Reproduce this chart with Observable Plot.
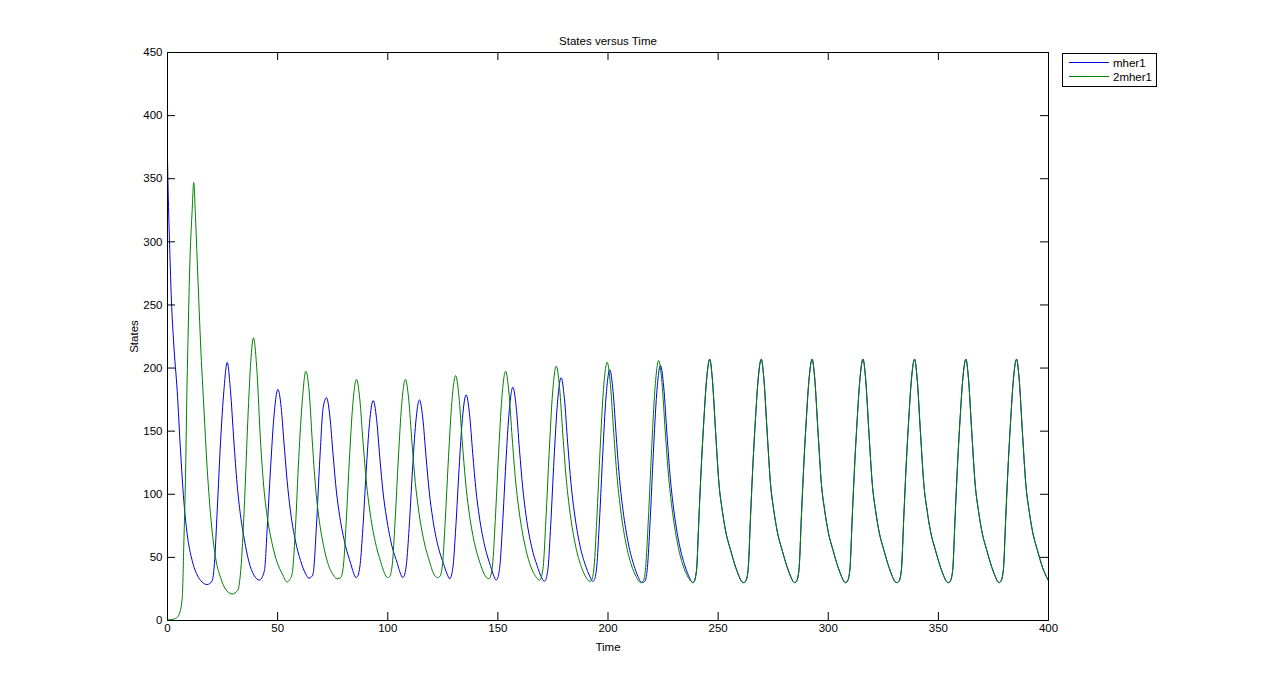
<!DOCTYPE html>
<html>
<head>
<meta charset="utf-8">
<script src="https://cdn.jsdelivr.net/npm/d3@7"></script>
<script src="https://cdn.jsdelivr.net/npm/@observablehq/plot@0.6"></script>
<style>
  body { margin: 0; background: #fff; }
  #wrap { position: relative; width: 1281px; height: 698px; font-family: "Liberation Sans", Arial, sans-serif; }
  #legend { position: absolute; left: 1062px; top: 53px; }
</style>
</head>
<body>
<div id="wrap"><div id="chart"></div><div id="legend"></div></div>
<script>
const title = "States versus Time";
const xLabel = "Time";
const yLabel = "States";
const seriesNames = ["mher1", "2mher1"];
const seriesColors = ["#0000dd", "#008000"];
const xTicks = [0, 50, 100, 150, 200, 250, 300, 350, 400];
const yTicks = [0, 50, 100, 150, 200, 250, 300, 350, 400, 450];

// mher1 (blue) from t = 0 to ~238 (after that it coincides with 2mher1)
const mher1Head = [
  [0,366],[0.3,340],[1,295],[1.8,253],[2.8,220],[4.4,182],[5.9,135],[7.4,95],[8.9,69],[11.2,47.5],[13.5,36],[15.7,30.5],[18,28.5],[20.3,31.5],[21.3,45],[22.6,88],[24.1,142],[25.6,182],[27.1,204.5],
  [28.6,182],[30.1,143],[31.6,108],[33.1,84],[35,63],[36.9,47],[39.2,36],[41.8,32],[44,39.5],[45.3,74],[46.8,121],[48.3,161],[50.1,183],
  [51.6,169],[52.8,143],[54.3,111],[55.8,87],[58.1,63],[60.4,47.5],[62.7,37],[64.2,33.5],[65.3,34.5],[66.1,37],[67.6,74],[69.2,129],[70.7,169],[72.2,176.5],
  [73.7,162],[75.2,131],[76.7,102],[78.2,82.5],[80.7,60],[83.2,45],[84.4,38],[85.6,34],
  [86.5,35.5],[87,39],[87.5,45],[88.7,73],[90.2,118],[91.7,156],[93.4,174.3],
  [94.9,160],[96.4,129],[97.9,101],[99.4,82],[101.9,59],[104.4,45],[105.6,38],[106.8,34],
  [107.5,35.5],[108,39],[108.5,45],[109.7,73],[111.2,118.5],[112.7,156.5],[114.4,174.8],
  [115.9,160.5],[117.4,129.5],[118.9,101],[120.4,81],[122.9,58.5],[125.4,44.5],[126.8,37.5],[128.2,33],
  [128.7,34.5],[129.2,38],[129.7,44],[130.9,74],[132.4,120.5],[133.9,160],[135.6,178.8],
  [137.1,164],[138.6,132],[140.1,102.5],[141.6,82],[144.1,58.5],[146.6,43.5],[148,36],[149.2,32],
  [149.9,33.5],[150.4,37],[150.9,43],[152.1,75],[153.6,124],[155.1,165],[156.8,184.8],
  [158.3,169.5],[159.8,135.5],[161.3,105],[162.8,83],[165.3,58.5],[167.8,43.5],[169.6,35],[171.1,31],
  [171.8,32.5],[172.3,36],[172.8,42],[174,76],[175.5,128],[177,171],[178.7,192.3],
  [180.2,176],[181.7,140.5],[183.2,108.5],[184.7,86],[187.2,60],[189.7,44],[191.5,36],[193.1,31],
  [193.9,32.5],[194.4,36],[194.9,43],[196.1,78],[197.6,131.5],[199.1,177],[200.8,198.6],
  [202.3,181.5],[203.8,144.5],[205.3,111],[206.8,87.5],[209.3,60.5],[211.8,43.5],[213.6,35],[215.3,30],
  [216.9,31.5],[217.4,35],[217.9,42],[219.1,78],[220.6,133],[222.1,179.5],[223.8,202],
  [225.3,185],[226.8,147],[228.3,112.5],[229.8,88.5],[232.3,61],[234.8,44],[236.6,35.5],[237.7,31.5]
];

// 2mher1 (green) from t = 0 to ~238
const twoMher1Head = [
  [0,0.5],[2,0.8],[4,2],[5.3,5],[6.7,18],[7.4,60],[8.2,116],[8.9,190],[9.2,214],[10.1,280],[11.2,325],[11.9,347],
  [12.7,320],[13.5,285],[14.2,254],[15,220],[16.5,169],[18,121],[19.5,85],[21.8,50],[24.1,34],[26.3,25],[29.4,21],[31.9,24],
  [33.5,45],[35,95],[36.5,160],[37.8,205],[39,224],
  [40.7,195],[42.2,143],[43.7,106],[45.3,82],[47.5,61],[49.8,46],[52.1,37],[54.3,30.5],[55.5,32.5],
  [56.6,37],[58.1,74],[59.6,129],[61.2,174],[62.8,197.5],
  [64.3,182],[65.7,143],[67.2,106],[68.7,82],[71,58],[73.7,41],[75.3,36],[77,33],
  [78.9,34.5],[79.4,38],[79.9,44],[81.1,77],[82.6,128],[84.1,170.5],[85.8,191],
  [87.3,175.5],[88.8,141],[90.3,109.5],[91.8,87.5],[94.3,62.5],[96.8,46.5],[98.4,38],[99.9,34],
  [101.1,35.5],[101.6,39],[102.1,45],[103.3,78],[104.8,128],[106.3,170.5],[108,191],
  [109.5,175.5],[111,141],[112.5,109.5],[114,87.5],[116.5,62.5],[119,46.5],[120.6,38],[122.6,34],
  [123.9,35.5],[124.4,39],[124.9,45],[126.1,79],[127.6,130],[129.1,173],[130.8,194],
  [132.3,178],[133.8,142.5],[135.3,110.5],[136.8,87.5],[139.3,62],[141.8,46],[143.6,37.5],[145.9,33],
  [146.6,34.5],[147.1,38],[147.6,44],[148.8,79],[150.3,131.5],[151.8,176],[153.5,197.5],
  [155,181],[156.5,144.5],[158,111.5],[159.5,88.5],[162,62],[164.5,45],[166.6,36.5],[168.9,32],
  [169.6,33.5],[170.1,37],[170.6,43],[171.8,79.5],[173.3,133.5],[174.8,179.5],[176.5,201.5],
  [178,184.5],[179.5,147],[181,113],[182.5,89],[185,61.5],[187.5,44.5],[189.6,35.5],[191.8,31],
  [192.7,32.5],[193.2,36],[193.7,43],[194.9,79.5],[196.4,135],[197.9,182],[199.6,204.6],
  [201.1,187],[202.6,148.5],[204.1,114],[205.6,89.5],[208.1,61.5],[210.6,44],[212.7,35],[214.9,30],
  [216.1,31.5],[216.6,35],[217.1,42],[218.3,79.5],[219.8,135.5],[221.3,183],[223,206],
  [224.5,188.5],[226,149.5],[227.5,114.5],[229,90],[231.5,61.5],[234,44],[236,35.5],[237.4,31.5]
];

// Shared steady oscillation from t ~ 238.6 to 400 (both series coincide)
const steadyTail = [
  [238.6,30],[239.3,31.5],[239.8,35],[240.3,42],[241.3,82],[242.5,127],[243.6,161],[244.6,187.5],[246.2,207],[247.3,193],[248.9,148],[250.4,108],[251.9,87],[253.4,71],[255.7,55.5],[258,42],[259.5,35],[260.5,31.3],
  [261.7,30],[262.6,31.5],[263.2,35],[263.7,42],[264.7,82],[265.9,127],[267,161],[268,187.5],[269.6,207],[270.7,193],[272.3,148],[273.8,108],[275.3,87],[276.8,71],[279.1,55.5],[281.4,42],[282.9,35],[283.9,31.3],
  [284.8,30],[285.7,31.5],[286.3,35],[286.8,42],[287.8,82],[289,127],[290.1,161],[291.1,187.5],[292.7,207],[293.8,193],[295.4,148],[296.9,108],[298.4,87],[299.9,71],[302.2,55.5],[304.5,42],[306,35],[307,31.3],
  [307.9,30],[308.8,31.5],[309.4,35],[309.9,42],[310.9,82],[312.1,127],[313.2,161],[314.2,187.5],[315.8,207],[316.9,193],[318.5,148],[320,108],[321.5,87],[323,71],[325.3,55.5],[327.6,42],[329.1,35],[330.1,31.3],
  [331.3,30],[332.2,31.5],[332.8,35],[333.3,42],[334.3,82],[335.5,127],[336.6,161],[337.6,187.5],[339.2,207],[340.3,193],[341.9,148],[343.4,108],[344.9,87],[346.4,71],[348.7,55.5],[351,42],[352.5,35],[353.5,31.3],
  [354.6,30],[355.5,31.5],[356.1,35],[356.6,42],[357.6,82],[358.8,127],[359.9,161],[360.9,187.5],[362.5,207],[363.6,193],[365.2,148],[366.7,108],[368.2,87],[369.7,71],[372,55.5],[374.3,42],[375.8,35],[376.8,31.3],
  [377.6,30],[378.5,31.5],[379.1,35],[379.6,42],[380.6,82],[381.8,127],[382.9,161],[383.9,187.5],[385.5,207],[386.6,193],[388.2,148],[389.7,108],[391.2,87],[392.7,71],[395,55.5],[397.3,42],[400,31.5]
];

const toRows = (name, pts) => pts.map(([t, v]) => ({series: name, t, v}));
const mher1 = toRows(seriesNames[0], mher1Head.concat(steadyTail));
const twoMher1 = toRows(seriesNames[1], twoMher1Head.concat(steadyTail));

const W = 1281, H = 698, mL = 167, mR = 233, mT = 52, mB = 78;
const frameW = W - mL - mR, frameH = H - mT - mB, tickLen = 8;
const font = '"Liberation Sans", Arial, sans-serif';

const chart = Plot.plot({
  width: W, height: H,
  marginLeft: mL, marginRight: mR, marginTop: mT, marginBottom: mB,
  x: {domain: [0, 400]},
  y: {domain: [0, 450]},
  style: {fontFamily: font, fontSize: "11.5px", background: "white", color: "black"},
  marks: [
    Plot.line(mher1, {x: "t", y: "v", stroke: seriesColors[0], strokeWidth: 1, curve: "monotone-x"}),
    Plot.line(twoMher1, {x: "t", y: "v", stroke: seriesColors[1], strokeWidth: 1, curve: "monotone-x"}),
    Plot.frame({stroke: "black"}),
    Plot.tickX(xTicks, {x: d => d, insetTop: frameH - tickLen, stroke: "black"}),
    Plot.tickX(xTicks, {x: d => d, insetBottom: frameH - tickLen, stroke: "black"}),
    Plot.tickY(yTicks, {y: d => d, insetRight: frameW - tickLen, stroke: "black"}),
    Plot.tickY(yTicks, {y: d => d, insetLeft: frameW - tickLen, stroke: "black"}),
    Plot.axisX(xTicks, {anchor: "bottom", tickSize: 0, tickPadding: 3, label: null}),
    Plot.axisY(yTicks, {anchor: "left", tickSize: 0, tickPadding: 5, label: null}),
    Plot.text([xLabel], {frameAnchor: "bottom", dy: 27, lineAnchor: "middle", textAnchor: "middle", fill: "black"}),
    Plot.text([yLabel], {frameAnchor: "left", dx: -33, rotate: -90, lineAnchor: "middle", textAnchor: "middle", fill: "black"}),
    Plot.text([title], {frameAnchor: "top", dy: -11, lineAnchor: "middle", textAnchor: "middle", fill: "black"})
  ]
});
document.getElementById("chart").appendChild(chart);

// Legend box
const lg = d3.select("#legend").append("svg").attr("width", 96).attr("height", 35)
  .style("font-family", font).style("font-size", "11.5px");
lg.append("rect").attr("x", 0.5).attr("y", 0.5).attr("width", 94).attr("height", 33)
  .attr("fill", "white").attr("stroke", "black");
seriesNames.forEach((name, i) => {
  const yy = 9.5 + i * 14;
  lg.append("line").attr("x1", 7).attr("x2", 47).attr("y1", yy).attr("y2", yy)
    .attr("stroke", seriesColors[i]).attr("stroke-width", 1);
  lg.append("text").attr("x", 51).attr("y", yy).attr("dy", "0.35em").text(name);
});
</script>
</body>
</html>
